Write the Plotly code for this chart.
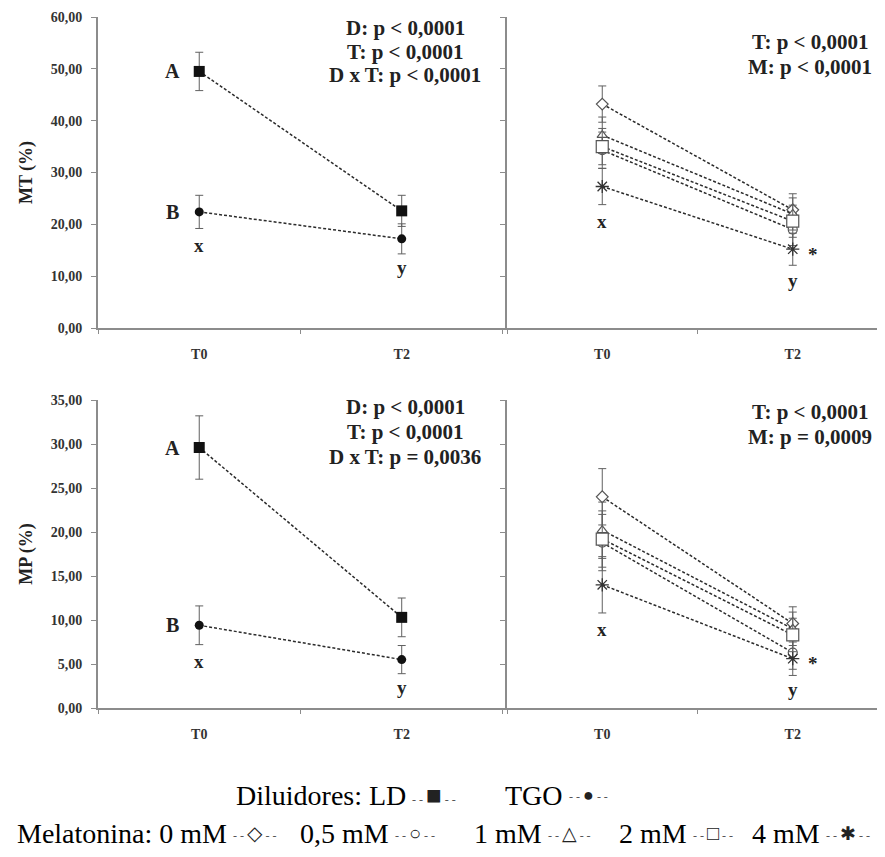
import plotly.graph_objects as go

# ---------------- data ----------------
times = ["T0", "T2"]

# Top panels: MT (%)
mt_ld = [49.5, 22.6]
mt_ld_err = [3.7, 3.0]
mt_tgo = [22.4, 17.2]
mt_tgo_err = [3.2, 2.9]

mt_mel_0 = [43.2, 22.8]
mt_mel_05 = [34.3, 19.0]
mt_mel_1 = [37.2, 22.0]
mt_mel_2 = [35.0, 20.6]
mt_mel_4 = [27.3, 15.2]
mt_mel_err = [3.5, 3.1]

# Bottom panels: MP (%)
mp_ld = [29.6, 10.3]
mp_ld_err = [3.6, 2.2]
mp_tgo = [9.4, 5.5]
mp_tgo_err = [2.2, 1.6]

mp_mel_0 = [24.0, 9.6]
mp_mel_05 = [18.8, 6.3]
mp_mel_1 = [20.2, 9.0]
mp_mel_2 = [19.2, 8.3]
mp_mel_4 = [14.0, 5.6]
mp_mel_err = [3.2, 1.9]

mel_names = ["0 mM", "0,5 mM", "1 mM", "2 mM", "4 mM"]
dil_names = ["LD", "TGO"]

stats_mt_left = ["D: p < 0,0001", "T: p < 0,0001", "D x T: p < 0,0001"]
stats_mt_right = ["T: p < 0,0001", "M: p < 0,0001"]
stats_mp_left = ["D: p < 0,0001", "T: p < 0,0001", "D x T: p = 0,0036"]
stats_mp_right = ["T: p < 0,0001", "M: p = 0,0009"]

# ---------------- styles ----------------
W, H = 885, 857
OFF = 8  # the page body margin shifts the figure by 8px
SERIF = "Times New Roman, Liberation Serif, DejaVu Serif, serif"
AXC = "#8c8c8c"
DASH = "3px,2px"

mel_styles = [
    dict(symbol="diamond", size=9),
    dict(symbol="circle", size=9),
    dict(symbol="triangle-up", size=9),
    dict(symbol="square", size=12),
    dict(symbol="asterisk-open", size=11),
]

fig = go.Figure()


def add_series(y, err, xa, ya, name, marker):
    fig.add_trace(go.Scatter(
        x=times, y=y, xaxis=xa, yaxis=ya, name=name, mode="lines+markers",
        line=dict(color="#2b2b2b", width=1.5, dash=DASH),
        marker=marker,
        error_y=dict(type="data", array=err, color="#606060", thickness=1, width=4),
        showlegend=False, cliponaxis=False,
    ))


black_sq = dict(symbol="square", size=11, color="#111111")
black_ci = dict(symbol="circle", size=9, color="#111111")

add_series(mt_ld, mt_ld_err, "x", "y", "LD", black_sq)
add_series(mt_tgo, mt_tgo_err, "x", "y", "TGO", black_ci)
add_series(mp_ld, mp_ld_err, "x3", "y3", "LD", black_sq)
add_series(mp_tgo, mp_tgo_err, "x3", "y3", "TGO", black_ci)


def mel_marker(st):
    if st["symbol"].startswith("asterisk"):
        return dict(symbol=st["symbol"], size=st["size"], color="#333333",
                    line=dict(color="#333333", width=1.3))
    return dict(symbol=st["symbol"], size=st["size"], color="white",
                line=dict(color="#555555", width=1.2))


mt_mel = [mt_mel_0, mt_mel_05, mt_mel_1, mt_mel_2, mt_mel_4]
mp_mel = [mp_mel_0, mp_mel_05, mp_mel_1, mp_mel_2, mp_mel_4]
for vals, name, st in zip(mt_mel, mel_names, mel_styles):
    add_series(vals, mt_mel_err, "x2", "y2", name, mel_marker(st))
for vals, name, st in zip(mp_mel, mel_names, mel_styles):
    add_series(vals, mp_mel_err, "x4", "y4", name, mel_marker(st))


# ---------------- axes ----------------
def px_x(p):
    return (p - OFF) / W


def px_y(p):
    return 1 - (p - OFF) / H


xl = [px_x(98), px_x(507)]
xr = [px_x(507), px_x(888)]
yt = [px_y(328), px_y(17)]
yb = [px_y(708), px_y(400)]

tick_font = dict(family=SERIF, size=14, color="#333333", weight="bold")
xcommon = dict(type="category", categoryarray=times, categoryorder="array",
               tickson="boundaries", ticks="outside", ticklen=4, tickcolor=AXC,
               showline=True, linecolor=AXC, linewidth=2, showgrid=False,
               zeroline=False, automargin=False,
               tickfont=dict(family=SERIF, size=14, color="#333333", weight="bold"),
               ticklabelstandoff=12)
ycommon = dict(ticks="outside", ticklen=5, tickcolor=AXC, showline=True,
               linecolor=AXC, linewidth=2, showgrid=False, zeroline=False,
               automargin=False, tickformat=".2f", tickfont=tick_font,
               ticklabelstandoff=6)
ytitle_font = dict(family=SERIF, size=18, color="#222222", weight="bold")

fig.update_layout(
    xaxis=dict(domain=xl, anchor="y", range=[-0.5, 1.52], **xcommon),
    xaxis2=dict(domain=xr, anchor="y2", range=[-0.5, 1.5], **xcommon),
    xaxis3=dict(domain=xl, anchor="y3", range=[-0.5, 1.52], **xcommon),
    xaxis4=dict(domain=xr, anchor="y4", range=[-0.5, 1.5], **xcommon),
    yaxis=dict(domain=yt, anchor="x", range=[0, 60], dtick=10,
               title=dict(text="MT (%)", font=ytitle_font, standoff=13), **ycommon),
    yaxis2=dict(domain=yt, anchor="x2", range=[0, 60], dtick=10, showticklabels=False, **ycommon),
    yaxis3=dict(domain=yb, anchor="x3", range=[0, 35], dtick=5,
                title=dict(text="MP (%)", font=ytitle_font, standoff=13), **ycommon),
    yaxis4=dict(domain=yb, anchor="x4", range=[0, 35], dtick=5, showticklabels=False, **ycommon),
)

# ---------------- annotations ----------------
ann = []
lab_font = dict(family=SERIF, size=20, color="#222222", weight="bold")
small_font = dict(family=SERIF, size=19, color="#222222", weight="bold")


def letter(text, xa, ya, x, y, xs=0, ys=0, font=lab_font):
    ann.append(dict(text=text, xref=xa, yref=ya, x=x, y=y, xshift=xs, yshift=ys,
                    showarrow=False, font=font, xanchor="center", yanchor="middle"))


# MT left
letter("A", "x", "y", times[0], mt_ld[0], xs=-27)
letter("B", "x", "y", times[0], mt_tgo[0], xs=-27)
letter("x", "x", "y", times[0], mt_tgo[0] - mt_tgo_err[0], ys=-17, font=small_font)
letter("y", "x", "y", times[1], mt_tgo[1] - mt_tgo_err[1], ys=-14, font=small_font)
# MT right
letter("x", "x2", "y2", times[0], mt_mel_4[0] - mt_mel_err[0], ys=-17, font=small_font)
letter("y", "x2", "y2", times[1], mt_mel_4[1] - mt_mel_err[1], ys=-15, font=small_font)
letter("*", "x2", "y2", times[1], mt_mel_4[1], xs=20, ys=-5, font=small_font)
# MP left
letter("A", "x3", "y3", times[0], mp_ld[0], xs=-27)
letter("B", "x3", "y3", times[0], mp_tgo[0], xs=-27)
letter("x", "x3", "y3", times[0], mp_tgo[0] - mp_tgo_err[0], ys=-17, font=small_font)
letter("y", "x3", "y3", times[1], mp_tgo[1] - mp_tgo_err[1], ys=-14, font=small_font)
# MP right
letter("x", "x4", "y4", times[0], mp_mel_4[0] - mp_mel_err[0], ys=-17, font=small_font)
letter("y", "x4", "y4", times[1], mp_mel_4[1] - mp_mel_err[1], ys=-14, font=small_font)
letter("*", "x4", "y4", times[1], mp_mel_4[1], xs=20, ys=-5, font=small_font)

stat_font = dict(family=SERIF, size=21, color="#222222", weight="bold")


def stats(lines, cx, ys):
    for t, yy in zip(lines, ys):
        ann.append(dict(text=t, xref="paper", yref="paper", x=px_x(cx), y=px_y(yy),
                        showarrow=False, font=stat_font, xanchor="center", yanchor="middle"))


stats(stats_mt_left, 405, [28, 52, 75])
stats(stats_mt_right, 810, [42, 67])
stats(stats_mp_left, 405, [407, 432, 457])
stats(stats_mp_right, 810, [412, 437])

# ---------------- legend (text rows) ----------------
leg_font = dict(family=SERIF, size=28, color="#000000")


def sym(ch, size=20):
    d1 = '<span style="font-size:12px;color:#555">- - </span>'
    d2 = '<span style="font-size:12px;color:#555"> - -</span>'
    return d1 + f'<span style="font-size:{size}px;color:#222">{ch}</span>' + d2


def leg_text(text, x_end, y_px):
    ann.append(dict(text=text, xref="paper", yref="paper", x=px_x(x_end), y=px_y(y_px),
                    showarrow=False, font=leg_font, xanchor="right", yanchor="middle"))


def leg_sym(text, x_start, y_px):
    ann.append(dict(text=text, xref="paper", yref="paper", x=px_x(x_start), y=px_y(y_px),
                    showarrow=False, font=leg_font, xanchor="left", yanchor="middle"))


# row 1
leg_text("Diluidores: " + dil_names[0], 408, 795)
leg_sym(sym("■", 26), 410, 795)
leg_text(dil_names[1], 565, 795)
leg_sym(sym("●", 18), 567, 795)
# row 2
mel_syms = ["◇", "○", "△", "□", "✱"]
mel_sym_sizes = [20, 20, 19, 20, 19]
text_end = [229, 391, 544, 689, 822]
for i, (n, s) in enumerate(zip(mel_names, mel_syms)):
    label = ("Melatonina: " + n) if i == 0 else n
    leg_text(label, text_end[i], 833)
    leg_sym(sym(s, mel_sym_sizes[i]), text_end[i] + 2, 833)

fig.update_layout(
    annotations=ann,
    width=W, height=H,
    margin=dict(l=0, r=0, t=0, b=0, autoexpand=False),
    paper_bgcolor="white", plot_bgcolor="white",
    separators=",.",
    showlegend=False,
)

fig.write_html("out.html")
